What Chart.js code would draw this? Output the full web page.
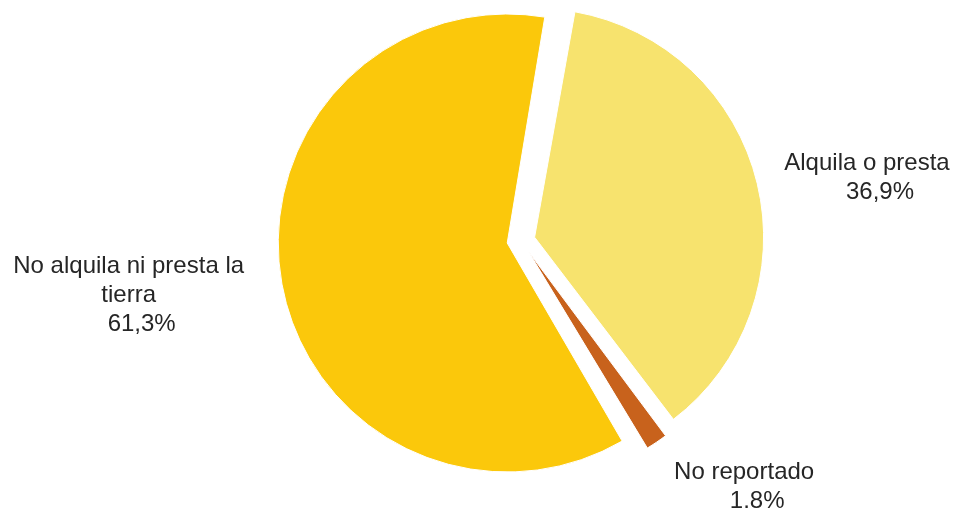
<!DOCTYPE html>
<html>
<head>
<meta charset="utf-8">
<script src="https://cdn.jsdelivr.net/npm/chart.js@4"></script>
<style>
  html, body { margin: 0; padding: 0; background: #fff; }
  #wrap { width: 954px; height: 508px; }
</style>
</head>
<body>
<div id="wrap"><canvas id="pieChart" width="954" height="508"></canvas></div>
<script>
const categories = ['Alquila o presta', 'No reportado', 'No alquila ni presta la tierra'];
const labelLines = [['Alquila o presta'], ['No reportado'], ['No alquila ni presta la', 'tierra']];
const percentValues = [36.9, 1.8, 61.3];
const percentLabels = ['36,9%', '1.8%', '61,3%'];
const sliceColors = ['#F7E36E', '#C8621C', '#FBC80B'];

// where each label block sits: angle nudge (deg) and distance as a multiple of the radius
const labelPlacement = [
    { dAngle: 3.4, dist: 1.535 },
    { dAngle: -8.3, dist: 1.45 },
    { dAngle: 2.35, dist: 1.73 }
];

// Chart.js grows the radius of exploded slices a bit (more for small ones);
// keep every slice at the same radius like the original explode
const evenExplode = {
    id: 'evenExplode',
    beforeDatasetsDraw(chart) {
        const meta = chart.getDatasetMeta(0);
        const baseR = meta.controller.outerRadius;
        meta.data.forEach(arc => {
            const off = (arc.options.offset || 0) / 4;
            const fix = 1 - Math.sin(Math.min(Math.PI, arc.circumference || 0));
            arc.outerRadius = baseR - off * fix;
        });
    }
};

const outsideLabels = {
    id: 'outsideLabels',
    afterDraw(chart) {
        const ctx = chart.ctx;
        const meta = chart.getDatasetMeta(0);
        const baseR = meta.controller.outerRadius;
        ctx.save();
        ctx.font = '24px "Liberation Sans", Arial, sans-serif';
        ctx.fillStyle = '#262626';
        ctx.textAlign = 'center';
        ctx.textBaseline = 'middle';
        const lineH = 29;
        meta.data.forEach((arc, i) => {
            const mid = (arc.startAngle + arc.endAngle) / 2 + labelPlacement[i].dAngle * Math.PI / 180;
            const r = baseR * labelPlacement[i].dist;
            const cx = arc.x + Math.cos(mid) * r;
            const cy = arc.y + Math.sin(mid) * r;
            const lines = labelLines[i].concat([percentLabels[i]]);
            const top = cy - (lines.length - 1) * lineH / 2;
            lines.forEach((txt, j) => {
                const shift = j === lines.length - 1 ? 13 : 0;
                ctx.fillText(txt, cx + shift, top + j * lineH);
            });
        });
        ctx.restore();
    }
};

const ctx = document.getElementById('pieChart').getContext('2d');
new Chart(ctx, {
    type: 'pie',
    data: {
        labels: categories,
        datasets: [{
            data: percentValues,
            backgroundColor: sliceColors,
            borderColor: '#ffffff',
            borderWidth: 1,
            offset: 56,
            hoverOffset: 0
        }]
    },
    options: {
        responsive: false,
        animation: false,
        events: [],
        rotation: 10,
        radius: 229,
        layout: { padding: { left: 88, right: 0, top: 0, bottom: 27 } },
        plugins: {
            legend: { display: false },
            tooltip: { enabled: false }
        }
    },
    plugins: [evenExplode, outsideLabels]
});
</script>
</body>
</html>
